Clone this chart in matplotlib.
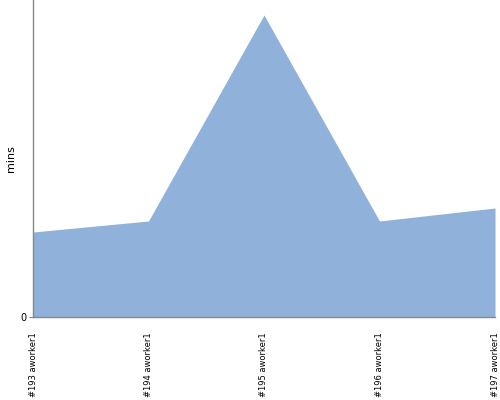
import matplotlib
matplotlib.use("Agg")
import matplotlib.pyplot as plt

builds = ["#193 aworker1", "#194 aworker1", "#195 aworker1", "#196 aworker1", "#197 aworker1"]
durations = [8.5, 9.6, 30.2, 9.6, 10.9]  # mins

fig = plt.figure(figsize=(5, 4), dpi=100)
ax = fig.add_axes([0.066, 0.2075, 0.924, 0.7925])

x = list(range(len(builds)))
ax.fill_between(x, durations, 0, color="#8fb1da", linewidth=0)

ax.set_xlim(0, len(builds) - 1)
ax.set_ylim(0, 31.7)
ax.set_xticks(x)
ax.set_xticklabels(builds, rotation=90, fontsize=6, va="top",
                   family=["Liberation Sans Narrow", "DejaVu Sans"])
ax.tick_params(axis="x", length=0, pad=11)
ax.set_yticks([0])
ax.tick_params(axis="y", length=3, labelsize=7, color="#888888", pad=2)
ax.set_ylabel("mins", fontsize=8, labelpad=3)

for side in ("top", "right"):
    ax.spines[side].set_visible(False)
for side in ("left", "bottom"):
    ax.spines[side].set_color("#888888")
    ax.spines[side].set_linewidth(1)

fig.savefig("out.png", dpi=100)
